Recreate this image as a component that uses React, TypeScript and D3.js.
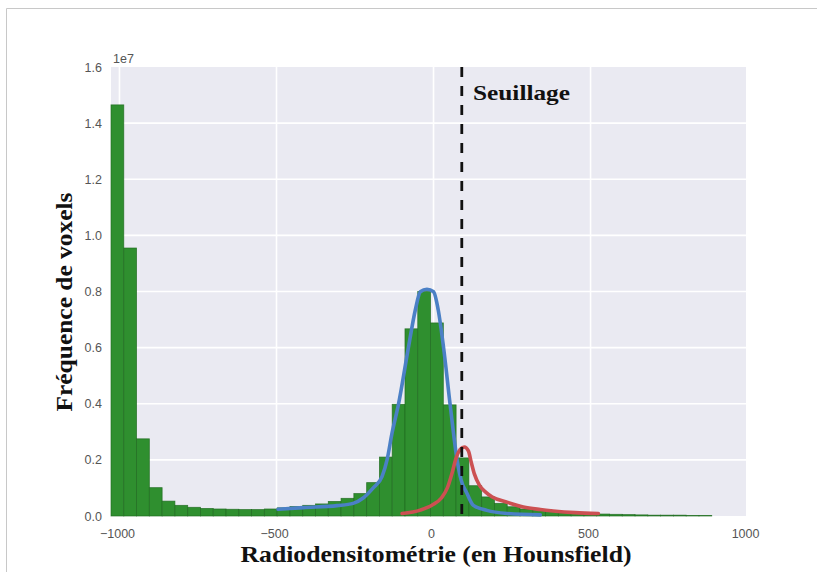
import React from 'react';
import * as d3 from 'd3';

// histogram: 50 bins of ~40.7 HU from -1027, counts in units of 1e7
const binStart = -1027;
const binWidth = 40.7;
const counts = [
  1.465, 0.955, 0.275, 0.101, 0.053, 0.038, 0.031, 0.027, 0.025, 0.024,
  0.023, 0.023, 0.025, 0.029, 0.034, 0.038, 0.043, 0.052, 0.063, 0.080,
  0.119, 0.210, 0.398, 0.667, 0.800, 0.688, 0.396, 0.207, 0.108, 0.068,
  0.045, 0.033, 0.025, 0.020, 0.016, 0.012, 0.010, 0.008, 0.007, 0.006,
  0.005, 0.004, 0.003, 0.003, 0.003, 0.002, 0.002,
];

// fitted curves (HU, 1e7)
const blueX = [-495, -415, -307, -256, -224, -192, -164, -148, -132, -112, -80, -58, -42, -21, 0, 15, 32, 53, 75, 88, 106, 126, 170, 234, 340];
const blueY = [0.024, 0.030, 0.037, 0.045, 0.064, 0.100, 0.140, 0.200, 0.296, 0.396, 0.600, 0.734, 0.799, 0.808, 0.799, 0.734, 0.600, 0.396, 0.200, 0.128, 0.082, 0.039, 0.020, 0.009, 0.004];
const redX = [-100, -42, -4, 25, 44, 60, 72, 85, 98, 111, 120, 130, 146, 165, 187, 232, 286, 340, 381, 451, 525];
const redY = [0.009, 0.021, 0.039, 0.064, 0.100, 0.157, 0.207, 0.237, 0.246, 0.232, 0.192, 0.150, 0.110, 0.086, 0.068, 0.050, 0.032, 0.023, 0.018, 0.012, 0.009];

const threshold = 90;
const xTicks = [-1000, -500, 0, 500, 1000];
const yTicks = [0, 0.2, 0.4, 0.6, 0.8, 1.0, 1.2, 1.4, 1.6];

const W = 817;
const H = 572;
const plot = { left: 111, right: 746, top: 67, bottom: 516 };

export default function App() {
  const x = d3.scaleLinear().domain([-1027, 995]).range([plot.left, plot.right]);
  const y = d3.scaleLinear().domain([0, 1.6]).range([plot.bottom, plot.top]);

  const line = d3.line<[number, number]>()
    .x((d) => x(d[0]))
    .y((d) => y(d[1]))
    .curve(d3.curveMonotoneX);

  const blue = blueX.map((v, i) => [v, blueY[i]] as [number, number]);
  const red = redX.map((v, i) => [v, redY[i]] as [number, number]);

  const tickFont = { fontFamily: 'Liberation Sans, Arial, sans-serif', fontSize: 12.5, fill: '#555' };
  const serif = 'Liberation Serif, DejaVu Serif, serif';

  return (
    <svg width={W} height={H} style={{ position: 'absolute', left: 0, top: 0, background: '#fff' }}>
      {/* frame of the original picture */}
      <line x1={6.5} x2={W} y1={8.5} y2={8.5} stroke="#c8c8c8" />
      <line x1={6.5} x2={6.5} y1={8.5} y2={H} stroke="#c8c8c8" />

      <rect x={plot.left} y={plot.top} width={plot.right - plot.left} height={plot.bottom - plot.top} fill="#EAEAF2" />

      {/* grid */}
      {xTicks.filter((t) => x(t) > plot.left && x(t) < plot.right).map((t) => (
        <line key={'gx' + t} x1={x(t)} x2={x(t)} y1={plot.top} y2={plot.bottom} stroke="#fff" strokeWidth={1.6} />
      ))}
      {yTicks.filter((t) => t > 0 && t < 1.6).map((t) => (
        <line key={'gy' + t} x1={plot.left} x2={plot.right} y1={y(t)} y2={y(t)} stroke="#fff" strokeWidth={1.6} />
      ))}

      {/* histogram */}
      {counts.map((c, i) => {
        const x0 = x(binStart + i * binWidth);
        const x1 = x(binStart + (i + 1) * binWidth);
        return (
          <rect key={'b' + i} x={x0} y={y(c)} width={x1 - x0} height={y(0) - y(c)}
            fill="#2f8f2f" stroke="#1f6a1f" strokeWidth={0.8} strokeOpacity={0.8} />
        );
      })}

      <path d={line(blue) || ''} fill="none" stroke="#4b80c6" strokeWidth={3.6} strokeLinecap="round" />
      <path d={line(red) || ''} fill="none" stroke="#cc5052" strokeWidth={3.6} strokeLinecap="round" />

      <line x1={x(threshold)} x2={x(threshold)} y1={plot.top} y2={plot.bottom}
        stroke="#111" strokeWidth={2.8} strokeDasharray="10,9" />

      {/* tick labels */}
      {xTicks.map((t) => (
        <text key={'tx' + t} x={x(t) - 2} y={538} textAnchor="middle" {...tickFont}>
          {t < 0 ? '\u2212' + Math.abs(t) : String(t)}
        </text>
      ))}
      {yTicks.map((t) => (
        <text key={'ty' + t} x={102} y={y(t) + 4.5} textAnchor="end" {...tickFont}>
          {t.toFixed(1)}
        </text>
      ))}
      <text x={113} y={63} {...tickFont}>1e7</text>

      <text x={473} y={100} fontFamily={serif} fontWeight="bold" fontSize={22} textLength={97} lengthAdjust="spacingAndGlyphs" fill="#111">
        Seuillage
      </text>

      <text x={436} y={562} textAnchor="middle" fontFamily={serif} fontWeight="bold" fontSize={23}
        textLength={391} lengthAdjust="spacingAndGlyphs" fill="#111">
        Radiodensitométrie (en Hounsfield)
      </text>
      <text transform="translate(72,302) rotate(-90)" textAnchor="middle" fontFamily={serif} fontWeight="bold" fontSize={23}
        textLength={219} lengthAdjust="spacingAndGlyphs" fill="#111">
        Fréquence de voxels
      </text>
    </svg>
  );
}
